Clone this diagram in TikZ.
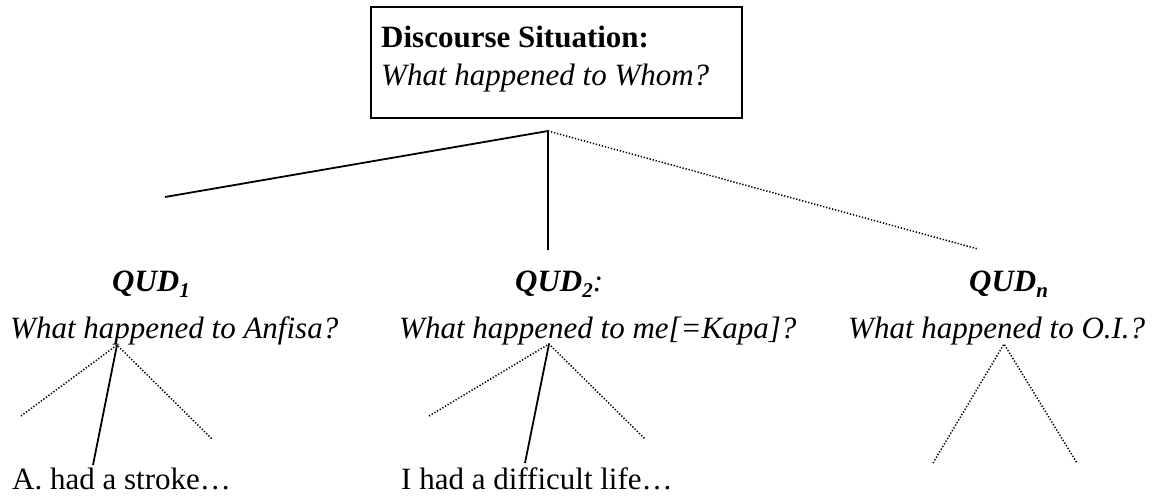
\documentclass[tikz,border=0pt]{standalone}
\usepackage{fontspec}
\setmainfont{Liberation Serif}
\newcommand\qsub[1]{\raisebox{-0.22em}{\fontsize{21}{21}\selectfont #1}}
\begin{document}
\begin{tikzpicture}[x=1pt,y=-1pt,
  branch/.style={line width=1.8pt},
  dotbranch/.style={line width=1.5pt, dash pattern=on 1.3pt off 1.8pt},
  txt/.style={inner sep=0pt, anchor=base west, font=\fontsize{31}{36}\selectfont},
  frame/.style={draw, line width=1.8pt, inner sep=0pt}]
\useasboundingbox (0,0) rectangle (1163,496);

% top box with the discourse situation
\node[frame, minimum width=371pt, minimum height=111pt] (sit) at (556.5,62.5) {};
\node[txt] (sitA) at (381,47) {\bfseries Discourse Situation:};
\node[txt] (sitB) at (381,85) {\itshape What happened to Whom?};

% branching point under the box
\coordinate (top) at (548,131);
\coordinate (l1) at (165,197);
\coordinate (l2) at (548,250);
\coordinate (l3) at (978,249);

% QUD labels
\node[txt] (q1) at (112,291) {\bfseries\itshape QUD\qsub{1}};
\node[txt] (q2) at (515,291) {\textbf{\textit{QUD\qsub{2}}}\textit{:}};
\node[txt] (qn) at (969,291) {\bfseries\itshape QUD\qsub{n}};

\node[txt] (w1) at (10,338) {\itshape What happened to Anfisa?};
\node[txt] (w2) at (399,338) {\itshape What happened to me[=Kapa]?};
\node[txt] (wn) at (848,338) {\itshape What happened to O.I.?};

% answers
\node[txt] (a1) at (12,489) {A. had a stroke\dots};
\node[txt] (a2) at (401,489) {I had a difficult life\dots};

% subtrees
\coordinate (p1) at (117,345);
\coordinate (p1l) at (21,416);
\coordinate (p1r) at (212,439);
\coordinate (p1a) at (93,465);
\coordinate (p2) at (549,344);
\coordinate (p2l) at (429,416);
\coordinate (p2r) at (645,439);
\coordinate (p2a) at (525,463);
\coordinate (pn) at (1004,344);
\coordinate (pnl) at (933,463);
\coordinate (pnr) at (1077,463);

\draw[branch] (l1) -- (top) -- (l2);
\draw[dotbranch] (top) -- (l3);

\draw[dotbranch] (p1l) -- (p1) -- (p1r);
\draw[branch] (p1) -- (p1a);
\draw[dotbranch] (p2l) -- (p2) -- (p2r);
\draw[branch] (p2) -- (p2a);
\draw[dotbranch] (pnl) -- (pn) -- (pnr);
\end{tikzpicture}
\end{document}
